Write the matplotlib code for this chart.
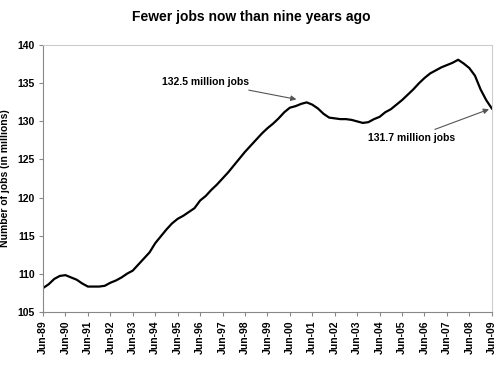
import numpy as np
import matplotlib.pyplot as plt

# months since Jun-89 and payroll jobs (millions)
months = [0, 3, 6, 9, 12, 15, 18, 21, 24, 27, 30, 33, 36, 39, 42, 45, 48, 51, 54, 57,
          60, 63, 66, 69, 72, 75, 78, 81, 84, 87, 90, 93, 96, 99, 102, 105, 108, 111,
          114, 117, 120, 123, 126, 129, 132, 135, 138, 141, 144, 147, 150, 153, 156,
          159, 162, 165, 168, 171, 174, 177, 180, 183, 186, 189, 192, 195, 198, 201,
          204, 207, 210, 213, 216, 219, 222, 225, 228, 231, 234, 237, 240]
jobs = [108.1, 108.6, 109.3, 109.7, 109.8, 109.5, 109.2, 108.7, 108.3, 108.3, 108.3,
        108.4, 108.8, 109.1, 109.5, 110.0, 110.4, 111.2, 112.0, 112.8,
        114.0, 114.9, 115.8, 116.6, 117.2, 117.6, 118.1, 118.6, 119.6, 120.2, 121.0,
        121.7, 122.5, 123.3, 124.2, 125.1, 126.0, 126.8, 127.6, 128.4, 129.1, 129.7,
        130.4, 131.2, 131.8, 132.0, 132.3, 132.5, 132.2, 131.7, 131.0, 130.5, 130.4,
        130.3, 130.3, 130.2, 130.0, 129.8, 129.9, 130.3, 130.6, 131.2, 131.6, 132.2,
        132.8, 133.5, 134.2, 135.0, 135.7, 136.3, 136.7, 137.1, 137.4, 137.7, 138.1,
        137.6, 137.0, 136.0, 134.2, 132.8, 131.7]
tick_labels = ["Jun-%02d" % (y % 100) for y in range(89, 110)]

plt.rcParams['font.family'] = ['Liberation Sans', 'DejaVu Sans']

fig = plt.figure(figsize=(5.02, 3.70), dpi=100)
ax = fig.add_axes([0.0857, 0.1576, 0.894, 0.72])

ax.plot(months, jobs, color='black', lw=1.6)

ax.set_xlim(0, 240)
ax.set_ylim(105, 140)
ax.set_xticks(np.arange(0, 241, 12))
ax.set_xticklabels(tick_labels, rotation=90, fontsize=7.5, fontweight='bold')
ax.set_yticks(np.arange(105, 141, 5))
ax.set_yticklabels([str(v) for v in range(105, 141, 5)], fontsize=7.5, fontweight='bold')
ax.tick_params(direction='out', length=3, color='#888888', pad=3)
ax.set_ylabel('Number of jobs (in millions)', fontsize=7.5, fontweight='bold', labelpad=5)

for side in ['left', 'bottom']:
    ax.spines[side].set_color('#888888')
for side in ['top', 'right']:
    ax.spines[side].set_color('#cccccc')

fig.text(0.5, 0.953, 'Fewer jobs now than nine years ago', ha='center', va='center',
         fontsize=10, fontweight='bold')

ax.annotate('132.5 million jobs', xy=(135.5, 132.9), xytext=(87, 135.2),
            ha='center', va='center', fontsize=7.5, fontweight='bold',
            arrowprops=dict(arrowstyle='-|>', color='#555555', lw=0.8,
                            mutation_scale=8, shrinkA=2, shrinkB=0))
ax.annotate('131.7 million jobs', xy=(238.5, 131.6), xytext=(197, 127.8),
            ha='center', va='center', fontsize=7.5, fontweight='bold',
            arrowprops=dict(arrowstyle='-|>', color='#555555', lw=0.8,
                            mutation_scale=8, shrinkA=2, shrinkB=0))

fig.savefig('out.png', dpi=100)
